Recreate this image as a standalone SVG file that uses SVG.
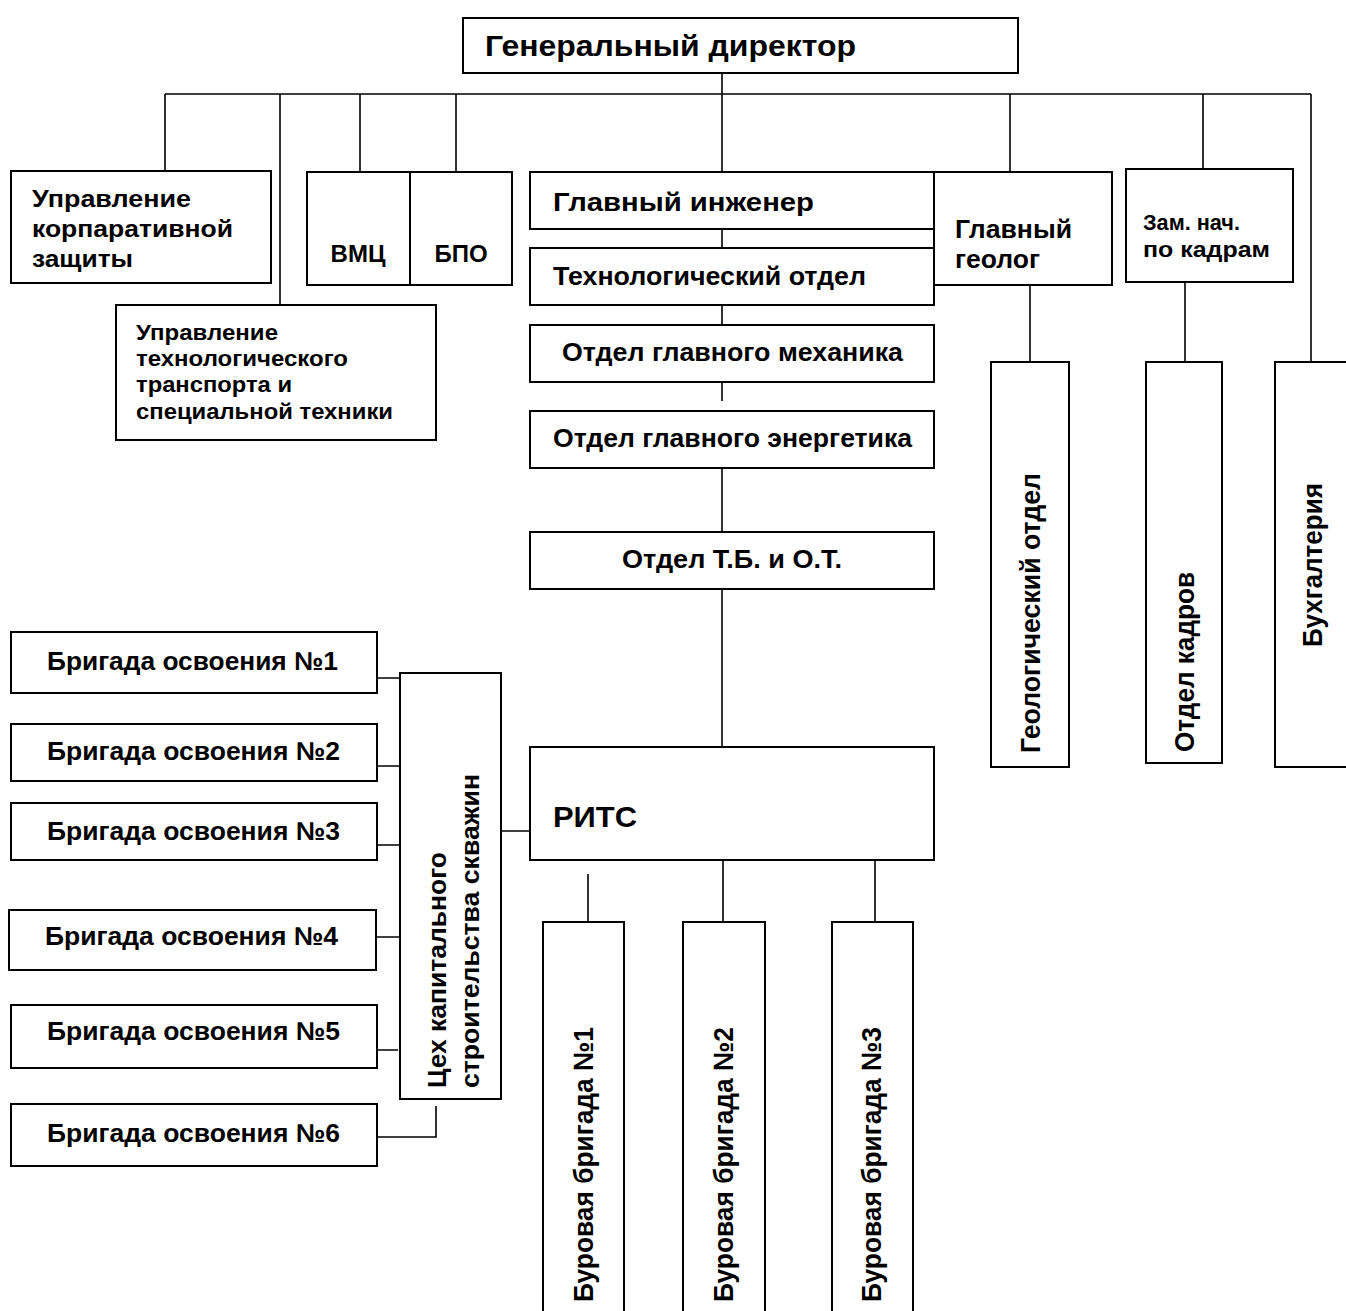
<svg xmlns="http://www.w3.org/2000/svg" width="1346" height="1311" viewBox="0 0 1346 1311">
<style>
.b{fill:#fff;stroke:#000;stroke-width:2}
.c{fill:none;stroke:#000;stroke-width:1.6}
text{font-family:"Liberation Sans",Arial,sans-serif;font-weight:bold;fill:#000}
.f30{font-size:30px}.f25{font-size:25px}.f24{font-size:24px}.f22{font-size:22px}.f26{font-size:26px}.r{font-size:28px}
</style>
<rect width="1346" height="1311" fill="#fff"/>
<g id="connectors">
<path class="c" d="M165,94H1311M165,94V171M280,94V305M360,94V172M456,94V172M722,62V172M1010,94V172M1203,94V169M1311,94V362"/>
<path class="c" d="M722,229V248M722,305V325M722,382V401M722,468V532M722,589V747"/>
<path class="c" d="M1030,285V362M1185,282V362"/>
<path class="c" d="M377,678H400M377,766H400M377,845H400M376,937H400M377,1050H398M377,1137H436V1106M501,831H530"/>
<path class="c" d="M588,874V922M723,860V922M875,860V922"/>
</g>
<g id="n-gendir"><rect class="b" x="463" y="18" width="555" height="55"/><text class="f30" x="485" y="56" textLength="371" lengthAdjust="spacingAndGlyphs">Генеральный директор</text></g>
<g id="n-korp"><rect class="b" x="11" y="171" width="260" height="112"/><text class="f24" x="32" y="207" textLength="159" lengthAdjust="spacingAndGlyphs">Управление</text><text class="f24" x="32" y="237" textLength="201" lengthAdjust="spacingAndGlyphs">корпаративной</text><text class="f24" x="32" y="267" textLength="101" lengthAdjust="spacingAndGlyphs">защиты</text></g>
<g id="n-vmc"><rect class="b" x="307" y="172" width="103" height="113"/><text class="f24" x="358" y="262" text-anchor="middle">ВМЦ</text></g>
<g id="n-bpo"><rect class="b" x="410" y="172" width="102" height="113"/><text class="f24" x="461" y="262" text-anchor="middle">БПО</text></g>
<g id="n-utt"><rect class="b" x="116" y="305" width="320" height="135"/><text class="f22" x="136" y="340" textLength="142" lengthAdjust="spacingAndGlyphs">Управление</text><text class="f22" x="136" y="366" textLength="212" lengthAdjust="spacingAndGlyphs">технологического</text><text class="f22" x="136" y="392" textLength="156" lengthAdjust="spacingAndGlyphs">транспорта и</text><text class="f22" x="136" y="419" textLength="257" lengthAdjust="spacingAndGlyphs">специальной техники</text></g>
<g id="n-glinzh"><rect class="b" x="530" y="172" width="404" height="57"/><text class="f25" x="553" y="211" textLength="261" lengthAdjust="spacingAndGlyphs">Главный инженер</text></g>
<g id="n-tehotd"><rect class="b" x="530" y="248" width="404" height="57"/><text class="f25" x="553" y="285" textLength="313" lengthAdjust="spacingAndGlyphs">Технологический отдел</text></g>
<g id="n-meh"><rect class="b" x="530" y="325" width="404" height="57"/><text class="f25" x="562" y="361" textLength="341" lengthAdjust="spacingAndGlyphs">Отдел главного механика</text></g>
<g id="n-energ"><rect class="b" x="530" y="411" width="404" height="57"/><text class="f25" x="553" y="447" textLength="359" lengthAdjust="spacingAndGlyphs">Отдел главного энергетика</text></g>
<g id="n-tbot"><rect class="b" x="530" y="532" width="404" height="57"/><text class="f25" x="622" y="568" textLength="220" lengthAdjust="spacingAndGlyphs">Отдел Т.Б. и О.Т.</text></g>
<g id="n-rits"><rect class="b" x="530" y="747" width="404" height="113"/><text class="f30" x="553" y="827" textLength="84" lengthAdjust="spacingAndGlyphs">РИТС</text></g>
<g id="n-glgeol"><rect class="b" x="934" y="172" width="178" height="113"/><text class="f25" x="955" y="238" textLength="117" lengthAdjust="spacingAndGlyphs">Главный</text><text class="f25" x="955" y="268" textLength="85" lengthAdjust="spacingAndGlyphs">геолог</text></g>
<g id="n-zam"><rect class="b" x="1126" y="169" width="167" height="113"/><text class="f22" x="1143" y="230" textLength="97" lengthAdjust="spacingAndGlyphs">Зам. нач.</text><text class="f22" x="1143" y="257" textLength="127" lengthAdjust="spacingAndGlyphs">по кадрам</text></g>
<g id="n-geolotd"><rect class="b" x="991" y="362" width="78" height="405"/><text class="r" transform="translate(1040,753) rotate(-90)" textLength="280" lengthAdjust="spacingAndGlyphs">Геологический отдел</text></g>
<g id="n-kadry"><rect class="b" x="1146" y="362" width="76" height="401"/><text class="r" transform="translate(1194,752) rotate(-90)" textLength="180" lengthAdjust="spacingAndGlyphs">Отдел кадров</text></g>
<g id="n-buh"><rect class="b" x="1275" y="362" width="80" height="405"/><text class="r" transform="translate(1322,647) rotate(-90)" textLength="164" lengthAdjust="spacingAndGlyphs">Бухгалтерия</text></g>
<g id="n-bo1"><rect class="b" x="11" y="632" width="366" height="61"/><text class="f26" x="47" y="670" textLength="291" lengthAdjust="spacingAndGlyphs">Бригада освоения №1</text></g>
<g id="n-bo2"><rect class="b" x="11" y="724" width="366" height="57"/><text class="f26" x="47" y="760" textLength="293" lengthAdjust="spacingAndGlyphs">Бригада освоения №2</text></g>
<g id="n-bo3"><rect class="b" x="11" y="803" width="366" height="57"/><text class="f26" x="47" y="840" textLength="293" lengthAdjust="spacingAndGlyphs">Бригада освоения №3</text></g>
<g id="n-bo4"><rect class="b" x="9" y="910" width="367" height="60"/><text class="f26" x="45" y="945" textLength="293" lengthAdjust="spacingAndGlyphs">Бригада освоения №4</text></g>
<g id="n-bo5"><rect class="b" x="11" y="1005" width="366" height="63"/><text class="f26" x="47" y="1040" textLength="293" lengthAdjust="spacingAndGlyphs">Бригада освоения №5</text></g>
<g id="n-bo6"><rect class="b" x="11" y="1104" width="366" height="62"/><text class="f26" x="47" y="1142" textLength="293" lengthAdjust="spacingAndGlyphs">Бригада освоения №6</text></g>
<g id="n-ceh"><rect class="b" x="400" y="673" width="101" height="426"/><text class="f26" transform="translate(446,1088) rotate(-90)" textLength="236" lengthAdjust="spacingAndGlyphs">Цех капитального</text><text class="f26" transform="translate(479,1088) rotate(-90)" textLength="314" lengthAdjust="spacingAndGlyphs">строительства скважин</text></g>
<g id="n-bb1"><rect class="b" x="543" y="922" width="81" height="400"/><text class="r" transform="translate(593,1302) rotate(-90)" textLength="275" lengthAdjust="spacingAndGlyphs">Буровая бригада №1</text></g>
<g id="n-bb2"><rect class="b" x="683" y="922" width="82" height="400"/><text class="r" transform="translate(733,1302) rotate(-90)" textLength="275" lengthAdjust="spacingAndGlyphs">Буровая бригада №2</text></g>
<g id="n-bb3"><rect class="b" x="832" y="922" width="81" height="400"/><text class="r" transform="translate(881,1302) rotate(-90)" textLength="275" lengthAdjust="spacingAndGlyphs">Буровая бригада №3</text></g>
</svg>
